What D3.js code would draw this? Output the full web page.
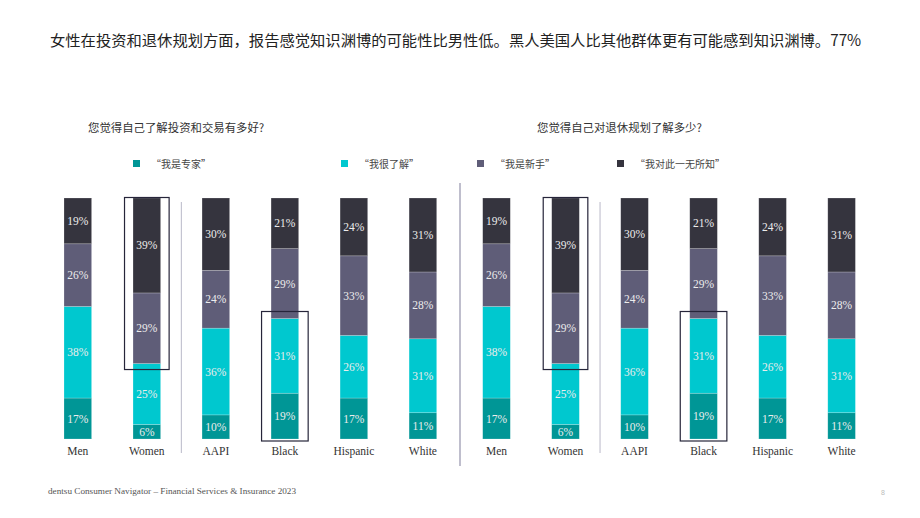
<!DOCTYPE html>
<html>
<head>
<meta charset="utf-8">
<script src="https://cdn.jsdelivr.net/npm/d3@7"></script>
<style>
  body { margin: 0; background: #fff; }
  svg { display: block; }
</style>
</head>
<body>
<script>
// data
const groups = ['Men', 'Women', 'AAPI', 'Black', 'Hispanic', 'White'];
const levels = ['expert', 'know', 'novice', 'none'];
const levelLabels = ['“我是专家”', '“我很了解”', '“我是新手”', '“我对此一无所知”'];
const expert = [17, 6, 10, 19, 17, 11];
const knowWell = [38, 25, 36, 31, 26, 31];
const novice = [26, 29, 24, 29, 33, 28];
const nothing = [19, 39, 30, 21, 24, 31];
const panelTitles = ['您觉得自己了解投资和交易有多好?', '您觉得自己对退休规划了解多少?'];
const title = '女性在投资和退休规划方面，报告感觉知识渊博的可能性比男性低。黑人美国人比其他群体更有可能感到知识渊博。77%';
const footer = 'dentsu Consumer Navigator – Financial Services & Insurance 2023';

const colors = ['#009696', '#00c8cf', '#5f5d78', '#35343e'];

const W = 920, H = 518;
const svg = d3.select('body').append('svg')
    .attr('width', W)
    .attr('height', H);

const rows = groups.map((g, i) => ({
    group: g,
    expert: expert[i],
    know: knowWell[i],
    novice: novice[i],
    none: nothing[i]
}));

// bars are normalised to full height, as in the source
const stack = d3.stack().keys(levels).offset(d3.stackOffsetExpand);
const series = stack(rows);

const y = d3.scaleLinear().domain([0, 1]).range([439, 198]);

// title
svg.append('text')
    .attr('x', 50).attr('y', 46)
    .style('font-family', '"Noto Sans CJK SC", sans-serif')
    .style('font-size', '15.3px')
    .style('fill', '#222')
    .text(title);

// legend
const legendX = [133, 341, 477, 617];
const legend = svg.selectAll('.legend')
    .data(levelLabels)
    .enter().append('g')
    .attr('class', 'legend')
    .attr('transform', (d, i) => 'translate(' + legendX[i] + ',160)');

legend.append('rect')
    .attr('width', 7).attr('height', 7)
    .style('fill', (d, i) => colors[i]);

legend.append('text')
    .attr('x', 18).attr('y', 7.5)
    .style('font-family', '"Noto Sans CJK SC", sans-serif')
    .style('font-size', '10px')
    .style('fill', '#444')
    .text(d => d);

// panels
const panelX = [64, 482.7];
const subX = [88, 537];

function drawPanel(p) {
    const x = d3.scaleBand()
        .domain(groups)
        .range([panelX[p], panelX[p] + 5 * 69 + 27.7])
        .paddingInner(0.6)
        .paddingOuter(0);

    const g = svg.append('g').attr('class', 'panel');

    g.append('text')
        .attr('x', subX[p]).attr('y', 132)
        .style('font-family', '"Noto Sans CJK SC", sans-serif')
        .style('font-size', '11.4px')
        .style('fill', '#333')
        .text(panelTitles[p]);

    // separator between gender and ethnicity
    const sepX = (x('Women') + x.bandwidth() + x('AAPI')) / 2;
    g.append('line')
        .attr('x1', sepX).attr('x2', sepX)
        .attr('y1', 202).attr('y2', 453)
        .style('stroke', '#b9b8c8')
        .style('stroke-width', 1);

    const layers = g.selectAll('.layer')
        .data(series)
        .enter().append('g')
        .attr('class', 'layer')
        .style('fill', (d, i) => colors[i]);

    layers.selectAll('rect')
        .data(d => d)
        .enter().append('rect')
        .attr('x', d => x(d.data.group))
        .attr('y', d => y(d[1]))
        .attr('width', x.bandwidth())
        .attr('height', d => y(d[0]) - y(d[1]))
        .style('stroke', 'rgba(255,255,255,0.35)')
        .style('stroke-width', 0.6);

    layers.selectAll('.val')
        .data((d, i) => d.map(v => ({ v: v, key: levels[i] })))
        .enter().append('text')
        .attr('class', 'val')
        .attr('x', d => x(d.v.data.group) + x.bandwidth() / 2)
        .attr('y', d => (y(d.v[0]) + y(d.v[1])) / 2)
        .attr('dy', '0.35em')
        .attr('text-anchor', 'middle')
        .style('font-family', '"Liberation Serif", serif')
        .style('font-size', '11.5px')
        .style('fill', '#ececec')
        .text(d => d.v.data[d.key] + '%');

    // category labels
    g.selectAll('.cat')
        .data(groups)
        .enter().append('text')
        .attr('class', 'cat')
        .attr('x', d => x(d) + x.bandwidth() / 2)
        .attr('y', 455)
        .attr('text-anchor', 'middle')
        .style('font-family', '"Liberation Serif", serif')
        .style('font-size', '11.5px')
        .style('fill', '#333')
        .text(d => d);

    // highlight boxes
    const women = series[1][1];
    const black = series[1][3];
    g.append('rect')
        .attr('x', x('Women') - 8.5)
        .attr('y', y(1) - 0.5)
        .attr('width', x.bandwidth() + 17)
        .attr('height', y(women[1]) + 6.5 - y(1))
        .style('fill', 'none')
        .style('stroke', '#26253a')
        .style('stroke-width', 1.2);

    g.append('rect')
        .attr('x', x('Black') - 9.5)
        .attr('y', y(black[1]) - 7)
        .attr('width', x.bandwidth() + 19)
        .attr('height', y(0) + 2 - (y(black[1]) - 7))
        .style('fill', 'none')
        .style('stroke', '#26253a')
        .style('stroke-width', 1.2);
}

drawPanel(0);
drawPanel(1);

// center divider
svg.append('line')
    .attr('x1', 460).attr('x2', 460)
    .attr('y1', 183).attr('y2', 466)
    .style('stroke', '#aaa9bd')
    .style('stroke-width', 1.5);

// footer
svg.append('text')
    .attr('x', 48).attr('y', 494)
    .style('font-family', '"Liberation Serif", serif')
    .style('font-size', '9.2px')
    .style('fill', '#555')
    .text(footer);

svg.append('text')
    .attr('x', 881).attr('y', 495)
    .style('font-family', '"Liberation Sans", sans-serif')
    .style('font-size', '7px')
    .style('fill', '#bbb')
    .text('8');
</script>
</body>
</html>
